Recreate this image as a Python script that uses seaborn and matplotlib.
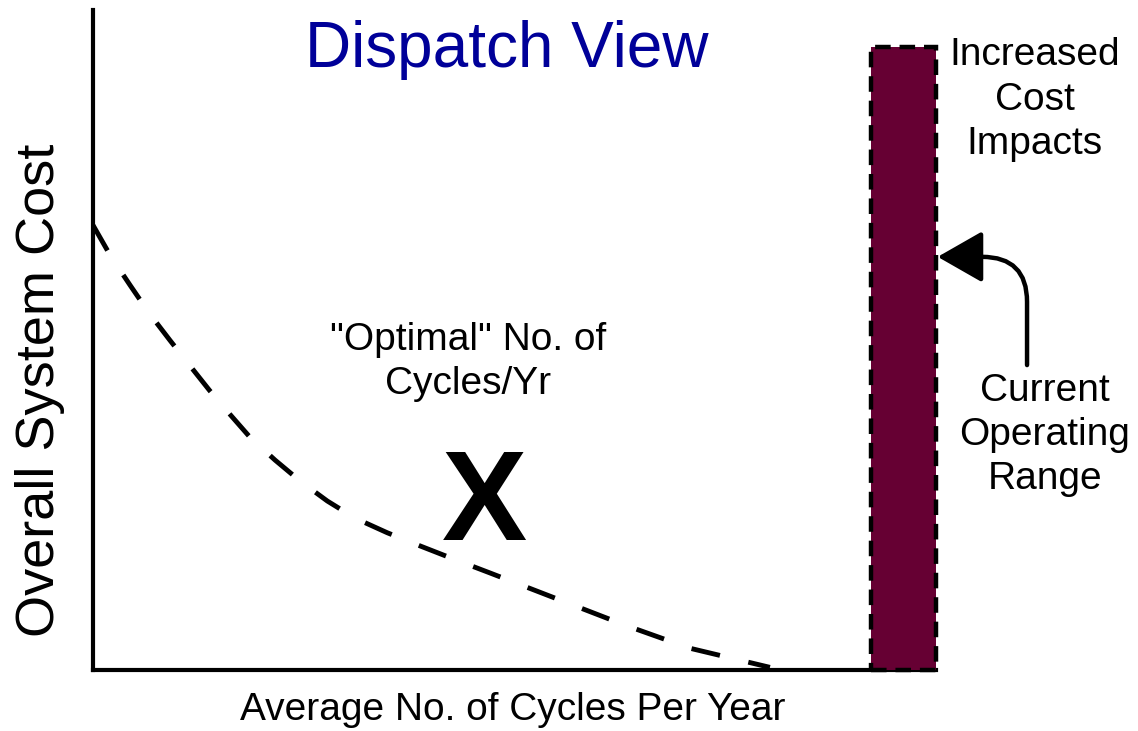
"""Dispatch view: system cost vs. cycles per year (schematic)."""

import matplotlib.pyplot as plt
import seaborn as sns

# dashed cost curve (axes run 0..10 both ways)
curve_x = [0.0, 0.21, 0.44, 0.67, 0.91, 1.15, 1.38, 1.62, 1.86, 2.16, 2.46,
           2.78, 3.11, 3.49, 3.88, 4.30, 4.71, 5.54, 6.31, 7.08, 8.03]
curve_y = [6.74, 6.27, 5.83, 5.40, 5.00, 4.61, 4.24, 3.88, 3.53, 3.18, 2.86,
           2.56, 2.30, 2.08, 1.88, 1.67, 1.47, 1.06, 0.68, 0.33, 0.04]

# current operating range bar
range_left = 9.23
range_right = 10.0
range_top = 9.44

# optimal point marker
optimal_x = 4.65
optimal_y = 1.97

TITLE = "Dispatch View"
X_LABEL = "Average No. of Cycles Per Year"
Y_LABEL = "Overall System Cost"
OPTIMAL_TEXT = "\"Optimal\" No. of\nCycles/Yr"
COST_TEXT = "Increased\nCost\nImpacts"
RANGE_TEXT = "Current\nOperating\nRange"

sns.set_theme(style="white")
plt.rcParams["font.family"] = ["Liberation Sans", "DejaVu Sans"]

fig = plt.figure(figsize=(11.38, 7.31), dpi=100)
ax = fig.add_axes([93 / 1138, 61 / 731, 843 / 1138, 660 / 731])

sns.lineplot(
    x=curve_x,
    y=curve_y,
    color="black",
    linewidth=3.5,
    linestyle=(0, (6, 6)),
    ax=ax,
)

ax.bar(
    (range_left + range_right) / 2,
    range_top,
    width=range_right - range_left,
    color="#660033",
    edgecolor="black",
    linewidth=3.2,
    linestyle=(0, (3.5, 2)),
    clip_on=False,
    zorder=3,
)

ax.set_xlim(0, 10)
ax.set_ylim(0, 10)
ax.set_xticks([])
ax.set_yticks([])
sns.despine(ax=ax)
for side in ("left", "bottom"):
    ax.spines[side].set_linewidth(3)
    ax.spines[side].set_color("black")

ax.set_xlabel(X_LABEL, fontsize=28, color="black", va="center")
ax.xaxis.set_label_coords(0.498, -0.061)
ax.set_ylabel(Y_LABEL, fontsize=39, color="black", va="center")
ax.yaxis.set_label_coords(-0.063, 0.424)

ax.text(4.91, 9.40, TITLE, fontsize=46, color="#000099", ha="center", va="center")
ax.text(4.45, 4.67, OPTIMAL_TEXT, fontsize=28, ha="center", va="center",
        linespacing=1.3, color="black")
ax.text(optimal_x, optimal_y, "X", fontsize=92, fontweight="bold",
        ha="center", va="baseline", color="black")
ax.text(11.17, 8.64, COST_TEXT, fontsize=28, ha="center", va="center",
        linespacing=1.3, color="black", clip_on=False)
ax.text(11.29, 3.56, RANGE_TEXT, fontsize=28, ha="center", va="center",
        linespacing=1.3, color="black", clip_on=False)

ax.annotate(
    "",
    xy=(10.02, 6.26),
    xytext=(11.08, 4.62),
    arrowprops=dict(
        arrowstyle="-|>,head_length=1.4,head_width=0.8",
        connectionstyle="angle,angleA=90,angleB=0,rad=45",
        color="black",
        linewidth=3.2,
        mutation_scale=20,
        shrinkA=0,
        shrinkB=0,
    ),
    annotation_clip=False,
)

fig.savefig("out.png", dpi=100)
